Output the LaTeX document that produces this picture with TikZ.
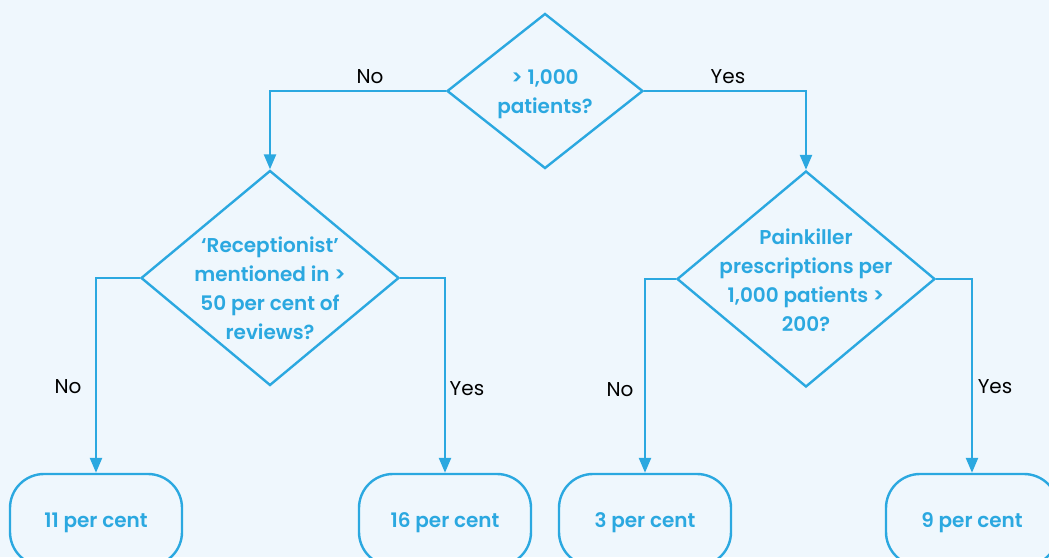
\documentclass[tikz,border=0pt]{standalone}
\usepackage{fontspec}
\setmainfont{Poppins}
\newfontfamily\medfont{Poppins SemiBold}
\usetikzlibrary{shapes.geometric,arrows.meta}
\definecolor{bg}{HTML}{EFF7FD}
\definecolor{ln}{HTML}{2BA8E0}
\tikzset{
  dia/.style={draw=ln, line width=2.4pt, shape=diamond, inner sep=0pt},
  qtext/.style={text=ln, font=\medfont\fontsize{20}{29}\selectfont, align=center},
  endbox/.style={draw=ln, line width=2.4pt, rounded corners=34pt, minimum width=172pt, minimum height=92pt, text height=14pt, text depth=0pt, text=ln, font=\medfont\fontsize{20}{24}\selectfont},
  arr/.style={draw=ln, line width=2.4pt, -{Triangle[length=15pt,width=12pt]}},
  lab/.style={text=black, font=\fontsize{20}{24}\selectfont}
}
\begin{document}
\begin{tikzpicture}[x=1pt,y=-1pt]
\fill[bg] (0,0) rectangle (1049,557);
\useasboundingbox (0,0) rectangle (1049,557);
% diamonds
\node[dia, minimum width=196pt, minimum height=155pt] (d1) at (545,91) {};
\node[qtext] (t1) at ([yshift=-3pt]d1.center) {> 1,000\\patients?};
\node[dia, minimum width=258pt, minimum height=215pt] (d2) at (270,278) {};
\node[qtext] (t2) at ([yshift=-10pt]d2.center) {‘Receptionist’\\mentioned in >\\50 per cent of\\reviews?};
\node[dia, minimum width=258pt, minimum height=216pt] (d3) at (806,279) {};
\node[qtext] (t3) at ([yshift=-1pt]d3.center) {Painkiller\\prescriptions per\\1,000 patients >\\200?};
% end boxes
\node[endbox] (b1) at (96,520) {11 per cent};
\node[endbox] (b2) at (445,520) {16 per cent};
\node[endbox] (b3) at (645,520) {3 per cent};
\node[endbox] (b4) at (972,520) {9 per cent};
% connectors
\draw[arr] (d1.west) -| (d2.north);
\draw[arr] (d1.east) -| (d3.north);
\draw[arr] (d2.west) -| (b1.north);
\draw[arr] (d2.east) -| (b2.north);
\draw[arr] (d3.west) -| (b3.north);
\draw[arr] (d3.east) -| (b4.north);
% labels
\node[lab] (l1) at (370,77) {No};
\node[lab] (l2) at (728,77) {Yes};
\node[lab] (l3) at (68,387) {No};
\node[lab] (l4) at (467,389) {Yes};
\node[lab] (l5) at (620,390) {No};
\node[lab] (l6) at (995,387) {Yes};
\end{tikzpicture}
\end{document}
